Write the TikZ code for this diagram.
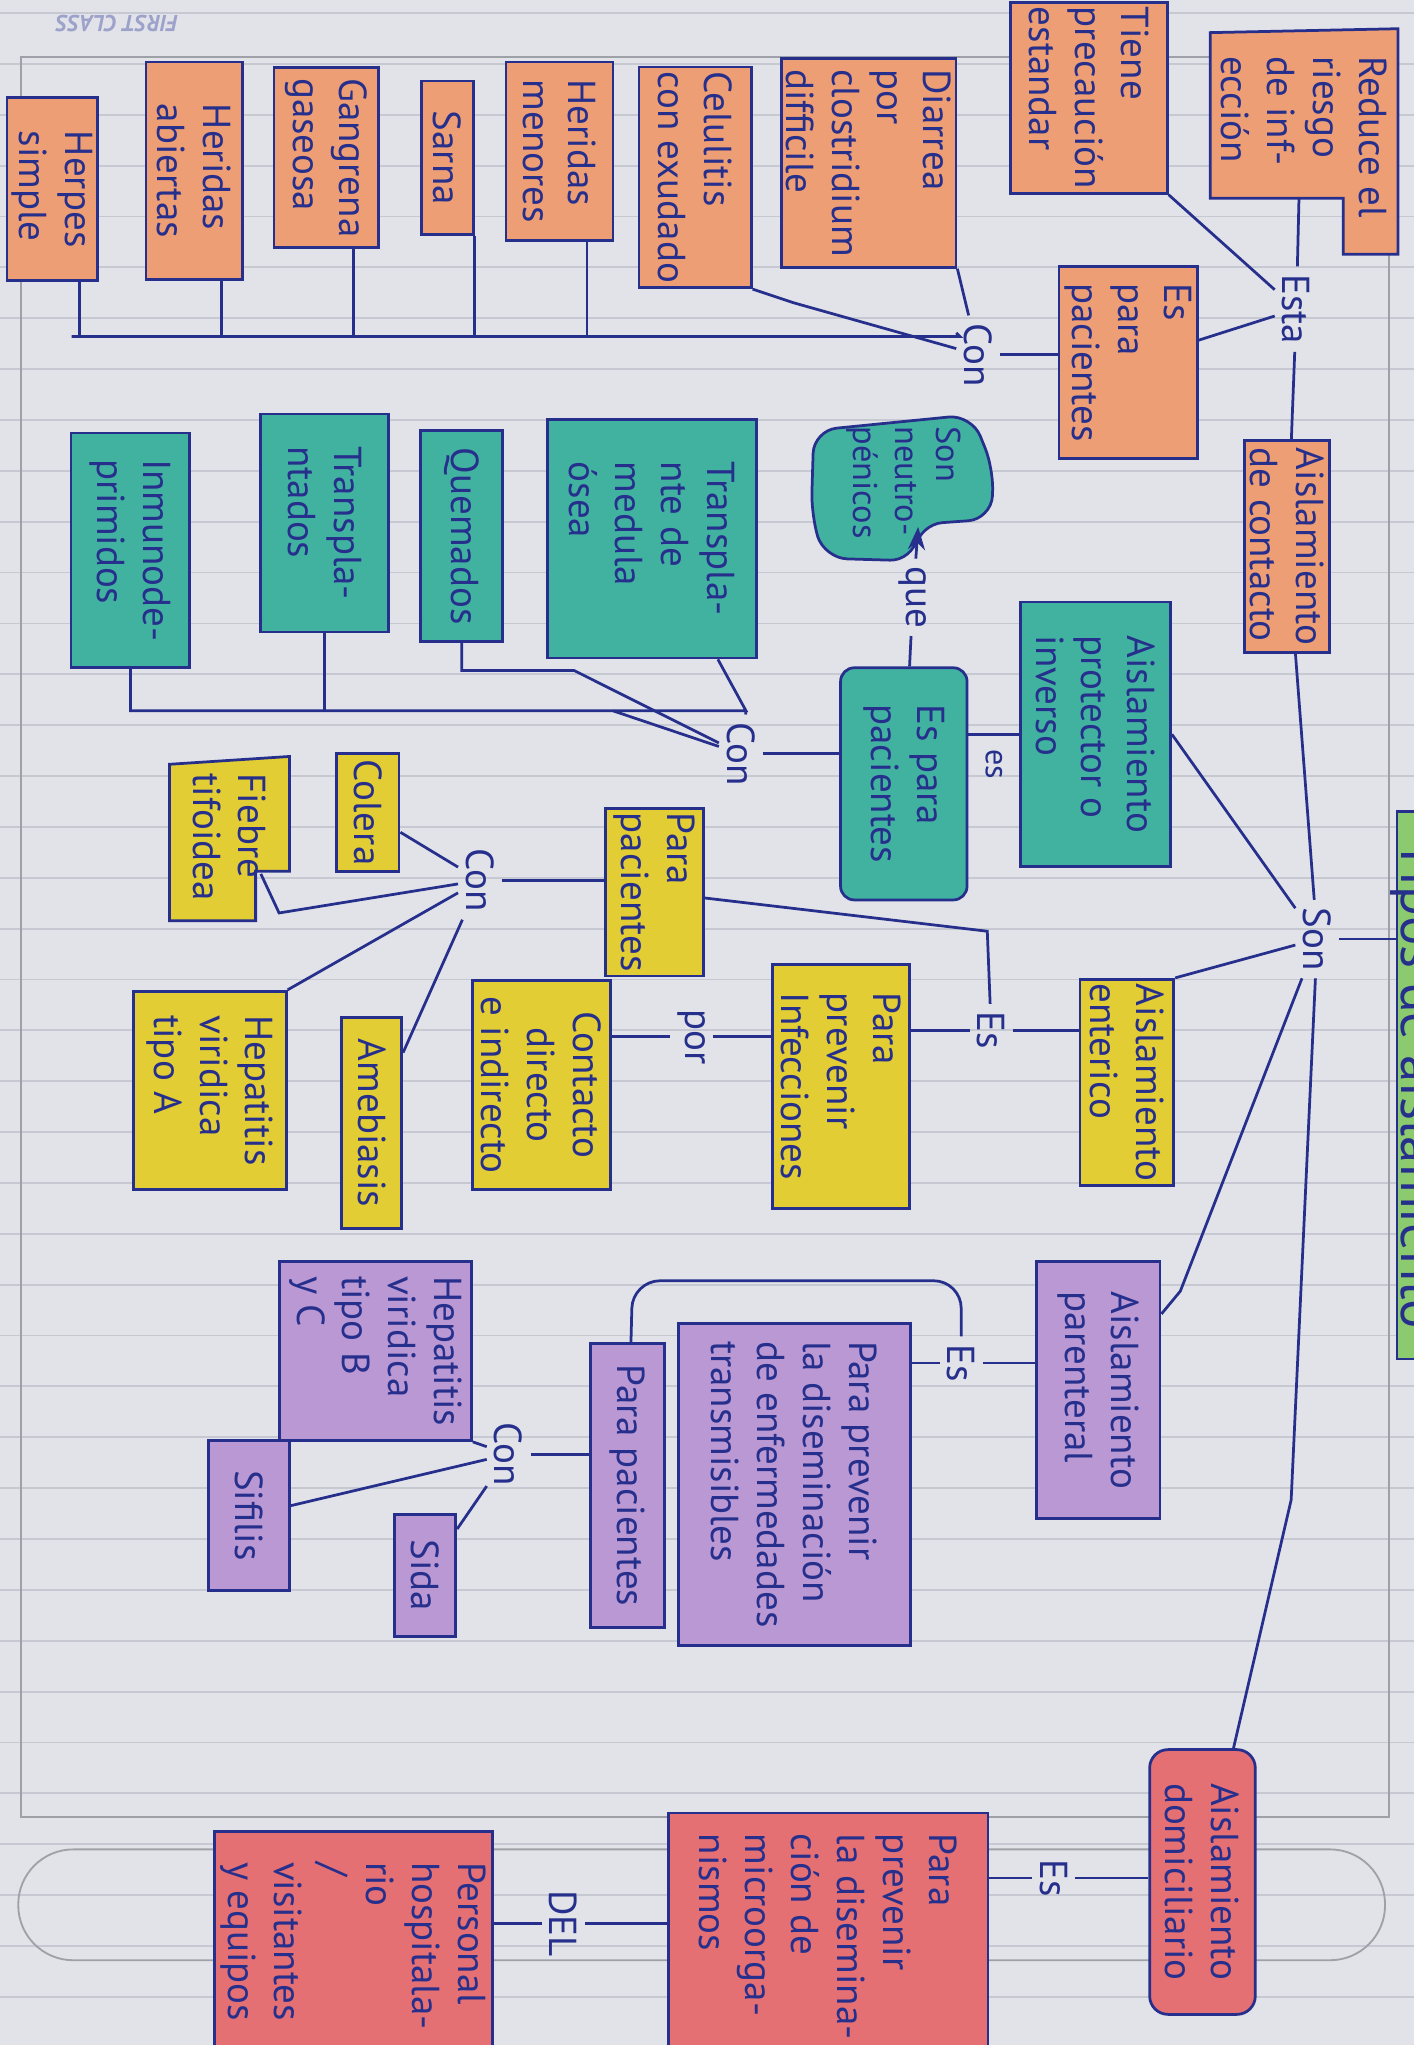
\documentclass[tikz,border=0pt]{standalone}
\usepackage{fontspec}
\setmainfont{PT Sans}
\usetikzlibrary{calc,arrows.meta}

\definecolor{tinta}{RGB}{38,48,140}
\definecolor{papel}{RGB}{226,227,232}
\definecolor{renglon}{RGB}{198,201,210}
\definecolor{cNaranja}{RGB}{238,158,116}
\definecolor{cTurquesa}{RGB}{66,178,160}
\definecolor{cAmarillo}{RGB}{226,205,52}
\definecolor{cLila}{RGB}{186,152,212}
\definecolor{cRojo}{RGB}{228,112,116}
\definecolor{cVerde}{RGB}{140,202,112}

\tikzset{
  caja/.style 2 args={draw=tinta, line width=0.6pt, rotate=-90, align=left,
    text=tinta, font=\fontsize{8.5}{10}\selectfont, inner sep=1pt,
    minimum width=#2*0.01cm, minimum height=#1*0.01cm},
  naranja/.style={fill=cNaranja},
  turquesa/.style={fill=cTurquesa},
  amarillo/.style={fill=cAmarillo},
  lila/.style={fill=cLila},
  rojo/.style={fill=cRojo},
  texto/.style={rotate=-90, align=left, text=tinta,
    font=\fontsize{8.5}{10}\selectfont, inner sep=1pt},
  enlace/.style={rotate=-90, text=tinta, font=\fontsize{8.5}{10}\selectfont,
    inner sep=1.5pt},
  linea/.style={draw=tinta, line width=0.6pt},
}

\begin{document}
\begin{tikzpicture}[x=0.01cm, y=-0.01cm]
  \useasboundingbox (0,0) rectangle (1084,1568);
  \clip (0,0) rectangle (1084,1568);

  % hoja
  \fill[papel] (0,0) rectangle (1084,1568);
  \foreach \y in {10,49,...,1568}
  {
     \draw[renglon, line width=0.4pt] (0,\y) -- (1084,\y);
  }
  \draw[renglon!80!black, line width=0.4pt] (16,44) rectangle (1065,1393);
  \draw[renglon!80!black, line width=0.4pt, rounded corners=12pt] (14,1418) rectangle (1062,1503);
  \node[rotate=180, text=tinta!45, font=\tiny\bfseries\itshape] (marca) at (90,18) {FIRST CLASS};

  % titulo y raiz
  \node[rotate=-90, anchor=south, fill=cVerde, draw=tinta, line width=0.6pt, text=tinta,
        font=\fontsize{12}{14}\selectfont, inner sep=1pt, text depth=0pt,
        minimum width=420*0.01cm] (titulo) at (1070,832) {Tipos de aislamiento};
  \node[enlace] (son) at (1010,720) {Son};
  \draw[linea] (son) -- (son -| titulo.south);

  % aislamiento de contacto
  \filldraw[linea, fill=cNaranja] (928,25) -- (1072,22) -- (1072,195) -- (1030,195)
        -- (1030,152) -- (928,152) -- cycle;
  \node[texto] (reduce) at (1000,105) {Reduce el\\riesgo\\de inf-\\ección};
  \coordinate (reducebase) at (996,152);
  \node[caja={120}{130},naranja] (tiene) at (835,75) {Tiene\\precaución\\estandar};
  \node[caja={106}{147},naranja] (esparaA) at (865,278) {Es\\para\\pacientes};
  \node[enlace] (esta) at (994,237) {Esta};
  \node[caja={65}{162},naranja] (contacto) at (987,419) {Aislamiento\\de contacto};
  \node[enlace] (conA) at (750,272) {Con};
  \node[caja={127}{160},naranja] (diarrea) at (666,125) {Diarrea\\por\\clostridium\\difficile};
  \node[caja={86}{163},naranja] (celulitis) at (533,136) {Celulitis\\con exudado};
  \node[caja={82}{137},naranja] (herMen) at (429,116) {Heridas\\menores};
  \node[caja={40}{118},naranja] (sarna) at (343,121) {Sarna};
  \node[caja={80}{138},naranja] (gangrena) at (250,121) {Gangrena\\gaseosa};
  \node[caja={74}{167},naranja] (herAb) at (149,131) {Heridas\\abiertas};
  \node[caja={65}{140},naranja] (herpes) at (40,145) {Herpes\\simple};

  \coordinate (busO) at (736,258);
  \coordinate (busIzq) at (55,258);
  \coordinate (codoCel) at (608,232);
  \draw[linea] (contacto) -- (son);
  \draw[linea] (esta) -- (reducebase);
  \draw[linea] (esta) -- (tiene.north east);
  \draw[linea] (esta) -- (esparaA);
  \draw[linea] (esta) -- (contacto);
  \draw[linea] (conA) -- (conA -| esparaA.south);
  \draw[linea] (conA) -- (diarrea.north east);
  \draw[linea] (conA) -- (codoCel) -- (celulitis.north east);
  \draw[linea] (conA) -- (busO) -- (busIzq);
  \foreach \c in {herpes,herAb,gangrena,sarna,herMen}
  {
     \draw[linea] ([xshift=6pt]\c.east) -- ([xshift=6pt]\c.east |- busO);
  }

  % aislamiento protector
  \node[caja={115}{203},turquesa] (protector) at (840,563) {Aislamiento\\protector o\\inverso};
  \node[caja={97}{178},turquesa,rounded corners=3pt] (esparaB) at (693,601) {Es para\\pacientes};
  \filldraw[linea, fill=cTurquesa, rounded corners=5pt] (624,330) -- (745,318) -- (762,360)
        -- (760,398) -- (705,402) -- (700,430) -- (632,428) -- (622,395) -- cycle;
  \node[texto, font=\fontsize{7.5}{9}\selectfont] (neutro) at (693,370) {Son\\neutro-\\pénicos};
  \coordinate (muesca) at (704,404);
  \node[enlace] (que) at (700,458) {que};
  \node[enlace, font=\fontsize{7}{8}\selectfont] (esB) at (762,586) {es};
  \node[enlace] (conB) at (568,578) {Con};
  \node[caja={160}{183},turquesa] (medula) at (500,413) {Transpla-\\nte de\\medula\\ósea};
  \node[caja={63}{162},turquesa] (quemados) at (354,411) {Quemados};
  \node[caja={98}{167},turquesa] (trasplantados) at (249,401) {Transpla-\\ntados};
  \node[caja={91}{180},turquesa] (inmuno) at (100,422) {Inmunode-\\primidos};

  \coordinate (busT) at (572,545);
  \coordinate (codoQ) at (440,514);
  \coordinate (pasoT) at (470,545);
  \draw[linea] (son) -- (protector.north);
  \draw[linea] (esparaB.north |- protector) -- (protector);
  \draw[linea] (esparaB) -- (que);
  \draw[linea, -{Stealth[length=5pt]}] (que) -- (muesca);
  \draw[linea] (conB) -- (conB -| esparaB.south);
  \draw[linea] (medula) -- (busT) -- (busT -| inmuno) -- (inmuno);
  \draw[linea] (trasplantados) -- (trasplantados |- busT);
  \draw[linea] (quemados) -- (quemados |- codoQ) -- (codoQ) -- (conB);
  \draw[linea] (pasoT) -- (conB);
  \draw[linea] (busT) -- (conB);

  % aislamiento enterico
  \node[caja={72}{156},amarillo] (enterico) at (864,830) {Aislamiento\\enterico};
  \node[enlace] (esC) at (760,790) {Es};
  \node[caja={105}{187},amarillo] (infecciones) at (645,833) {Para\\prevenir\\Infecciones};
  \node[enlace] (por) at (530,795) {por};
  \node[caja={106}{160},amarillo,align=center] (directo) at (415,832) {Contacto\\directo\\e indirecto};
  \node[caja={75}{121},amarillo] (paraC) at (502,684) {Para\\pacientes};
  \node[enlace] (conC) at (368,675) {Con};
  \node[caja={48}{90},amarillo] (colera) at (282,623) {Colera};
  \filldraw[linea, fill=cAmarillo] (130,586) -- (222,580) -- (222,668) -- (196,668)
        -- (196,706) -- (130,706) -- cycle;
  \node[texto] (fiebre) at (176,642) {Fiebre\\tifoidea};
  \coordinate (muescaF) at (200,670);
  \coordinate (codoF) at (214,700);
  \node[caja={117}{152},amarillo] (hepA) at (161,836) {Hepatitis\\viridica\\tipo A};
  \node[caja={46}{162},amarillo] (amebiasis) at (285,861) {Amebiasis};

  \coordinate (codoE) at (757,714);
  \draw[linea] (enterico.north west) -- (son);
  \draw[linea] (esC) -- (esC -| enterico.south);
  \draw[linea] (esC) -- (esC -| infecciones.north);
  \draw[linea] (esC) -- (codoE) -- (paraC);
  \draw[linea] (por) -- (por -| infecciones.south);
  \draw[linea] (por) -- (por -| directo.north);
  \draw[linea] (conC) -- (conC -| paraC.south);
  \draw[linea] (conC) -- (colera);
  \draw[linea] (conC) -- (codoF) -- (muescaF);
  \draw[linea] (conC) -- (hepA.north west);
  \draw[linea] (conC) -- (amebiasis);

  % aislamiento parenteral
  \node[caja={95}{197},lila] (parenteral) at (842,1066) {Aislamiento\\parenteral};
  \node[enlace] (esD) at (737,1045) {Es};
  \node[caja={178}{247},lila] (diseminacion) at (609,1138) {Para prevenir\\la diseminación\\de enfermedades\\transmisibles};
  \node[caja={57}{218},lila] (paraD) at (481,1139) {Para pacientes};
  \node[enlace] (conD) at (390,1115) {Con};
  \node[caja={147}{137},lila] (hepBC) at (288,1036) {Hepatitis\\viridica\\tipo B\\y C};
  \node[caja={62}{115},lila] (sifilis) at (191,1162) {Sifilis};
  \node[caja={47}{93},lila] (sida) at (326,1208) {Sida};

  \coordinate (codoP) at (905,990);
  \coordinate (codoD) at (485,982);
  \draw[linea] (son) -- (codoP) -- (parenteral);
  \draw[linea] (esD) -- (esD -| parenteral.south);
  \draw[linea] (esD) -- (esD -| diseminacion.north);
  \draw[linea, rounded corners=6pt] (esD) |- (codoD) -- (paraD);
  \draw[linea] (conD) -- (conD -| paraD.south);
  \draw[linea] (conD) -- (hepBC.north east);
  \draw[linea] (conD) -- (sifilis);
  \draw[linea] (conD) -- (sida);

  % aislamiento domiciliario
  \node[caja={81}{203},rojo,rounded corners=4pt] (domiciliario) at (922,1443) {Aislamiento\\domiciliario};
  \node[enlace] (esE) at (808,1440) {Es};
  \node[caja={245}{190},rojo] (microorg) at (635,1485) {Para\\prevenir\\la disemina-\\ción de\\microorga-\\nismos};
  \node[enlace] (del) at (432,1475) {DEL};
  \node[caja={213}{175},rojo] (personal) at (271,1492) {Personal\\hospitala-\\rio\\/\\visitantes\\y equipos};

  \coordinate (codoS) at (990,1150);
  \draw[linea] (son) -- (codoS) -- (domiciliario);
  \draw[linea] (esE) -- (esE -| domiciliario.south);
  \draw[linea] (esE) -- (esE -| microorg.north);
  \draw[linea] (del) -- (del -| microorg.south);
  \draw[linea] (del) -- (del -| personal.north);
\end{tikzpicture}
\end{document}
